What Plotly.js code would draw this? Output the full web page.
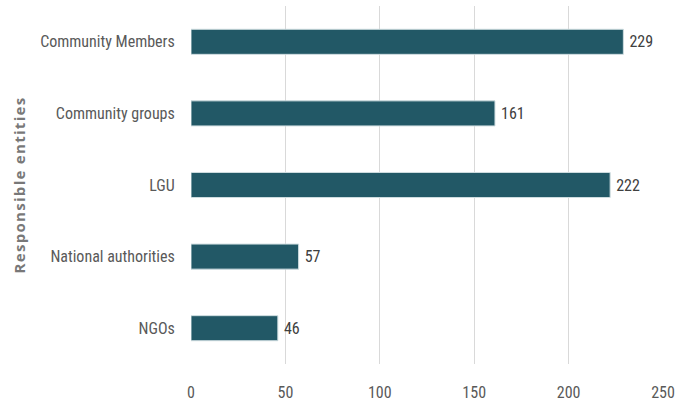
<!DOCTYPE html>
<html>
<head>
<meta charset="utf-8">
<script src="https://cdn.plot.ly/plotly-3.0.1.min.js"></script>
<style>html,body{margin:0;padding:0;background:#fff;}#chart{width:678px;height:403px;}
.ytitle{letter-spacing:1.3px;}</style>
</head>
<body>
<div id="chart"></div>
<script>
const categories = ["Community Members", "Community groups", "LGU", "National authorities", "NGOs"];
const values = [229, 161, 222, 57, 46];
const xTicks = [0, 50, 100, 150, 200, 250];
const yTitle = "Responsible entities";

const narrow = "Liberation Sans Narrow, Roboto Condensed, Arial Narrow, sans-serif";

const trace = {
  type: "bar",
  orientation: "h",
  y: categories,
  x: values,
  text: values.map(v => "\u2009" + v),
  textposition: "outside",
  textfont: {family: narrow, size: 16, color: "#404040"},
  cliponaxis: false,
  width: 0.35,
  marker: {color: "#225866", line: {color: "#cfdde0", width: 1}},
  hoverinfo: "none"
};

const layout = {
  width: 678, height: 403,
  margin: {l: 191, r: 15, t: 6, b: 39},
  paper_bgcolor: "#fff", plot_bgcolor: "#fff",
  showlegend: false,
  xaxis: {
    range: [0, 250],
    tickvals: xTicks,
    ticktext: xTicks.map(String),
    showgrid: true, gridcolor: "#d9d9d9", gridwidth: 1,
    zeroline: false, showline: false,
    ticks: "outside", ticklen: 14, tickcolor: "rgba(0,0,0,0)",
    tickfont: {family: narrow, size: 16, color: "#595959"},
    fixedrange: true
  },
  yaxis: {
    categoryorder: "array",
    categoryarray: categories.slice().reverse(),
    showgrid: false, zeroline: false, showline: false,
    ticks: "outside", ticklen: 12, tickcolor: "rgba(0,0,0,0)",
    tickfont: {family: narrow, size: 16, color: "#595959"},
    title: {text: yTitle, font: {family: "Open Sans, sans-serif", size: 15, color: "#787878", weight: "bold"}, standoff: 10},
    fixedrange: true
  }
};

Plotly.newPlot("chart", [trace], layout, {displayModeBar: false, staticPlot: true});
</script>
</body>
</html>
